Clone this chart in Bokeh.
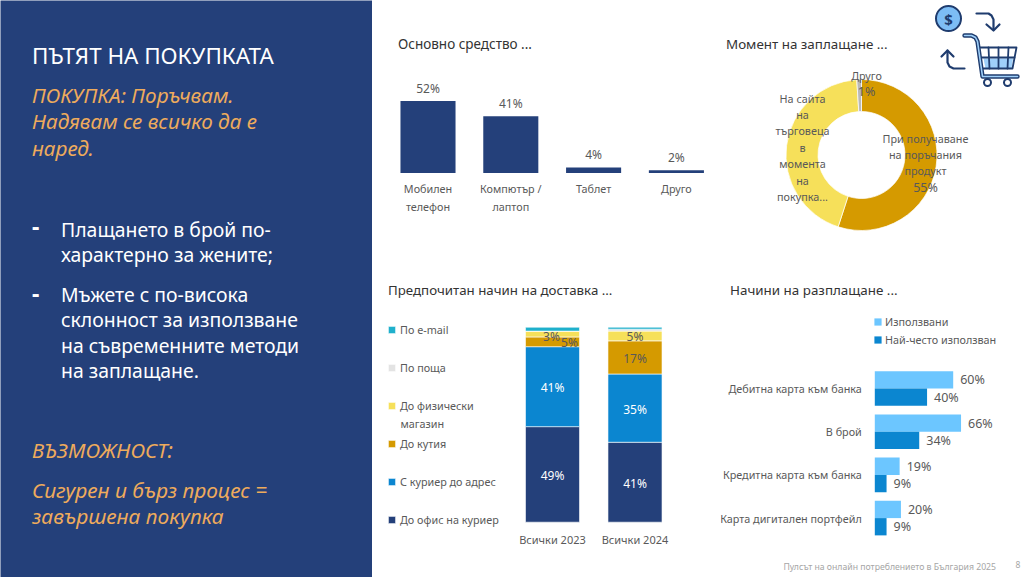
from math import pi
from bokeh.core.properties import value
from bokeh.embed import file_html
from bokeh.layouts import column, row
from bokeh.models import ColumnDataSource, FixedTicker, Legend, LegendItem, LinearAxis, Range1d
from bokeh.plotting import figure
from bokeh.resources import INLINE
from bokeh.transform import dodge

# ---------- data ----------
device_labels = ["Мобилен\nтелефон", "Компютър /\nлаптоп", "Таблет", "Друго"]
device_values = [52, 41, 4, 2]

pay_moment_labels = ["При получаване\nна поръчания\nпродукт", "На сайта\nна\nтърговеца\nв\nмомента\nна\nпокупка...", "Друго"]
pay_moment_values = [55, 44, 1]

delivery_years = ["Всички 2023", "Всички 2024"]
delivery_series = ["До офис на куриер", "С куриер до адрес", "До кутия", "До физически\nмагазин", "По поща", "По e-mail"]
office_courier = [49, 41]
courier_address = [41, 35]
parcel_box = [5, 17]
physical_store = [3, 5]
by_post = [0, 1]
by_email = [2, 1]

pay_methods = ["Дебитна карта към банка", "В брой", "Кредитна карта към банка", "Карта дигитален портфейл"]
pay_used = [60, 66, 19, 20]
pay_most = [40, 34, 9, 9]
pay_series = ["Използвани", "Най-често използван"]

# ---------- style ----------
FONT = "Noto Sans"
NAVY = "#24407a"
BLUE = "#0b86d0"
GOLD = "#d59a00"
YELLOW = "#f6e05a"
GREY = "#e3e3e3"
TEAL = "#1fb0cc"
LIGHT = "#6cc6ff"
ORANGE = "#eeab5c"
TXT = "#595959"
HEAD = "#333333"
ICON = "#1f3c6e"
ICONF = "#9fd0fa"


def scale(px0, px1, a_px, a_val, b_px, b_val):
    k = (b_val - a_val) / (b_px - a_px)
    return Range1d(start=a_val + (px0 - a_px) * k, end=a_val + (px1 - a_px) * k)


def base(x0, x1, y0, y1, xr=None, yr=None, bg="white"):
    p = figure(width=x1 - x0, height=y1 - y0, x_range=xr or Range1d(x0, x1), y_range=yr or Range1d(y1, y0),
               toolbar_location=None, output_backend="svg", x_axis_location=None, y_axis_location=None,
               min_border=0, background_fill_color=bg, border_fill_color=bg, outline_line_color=None)
    p.grid.visible = False
    p.extra_x_ranges["page"] = Range1d(x0, x1)
    p.extra_y_ranges["page"] = Range1d(y1, y0)
    return p


def text(p, x, y, t, size, color=TXT, align="left", style="normal", **kw):
    p.text(x=x, y=y, text=t, text_font=value(FONT), text_font_size=f"{size}px", text_color=color,
           text_align=align, text_baseline="middle", text_font_style=style,
           x_range_name="page", y_range_name="page", **kw)


def cat_axis(p, side, ticks, labels, standoff, size):
    ax = LinearAxis(ticker=FixedTicker(ticks=ticks), major_label_overrides=dict(zip(ticks, labels)),
                    fixed_location=0, axis_line_color=None, major_tick_line_color=None,
                    minor_tick_line_color=None, major_label_standoff=standoff,
                    major_label_text_font=FONT, major_label_text_font_size=f"{size}px",
                    major_label_text_color=TXT, major_label_orientation="horizontal")
    p.add_layout(ax, side)


# ---------- left panel ----------
left = base(0, 372, 0, 577, bg=NAVY)
text(left, [31.5], [54.5], ["ПЪТЯТ НА ПОКУПКАТА"], 22.4, "white")
text(left, [31.5, 31.5, 31.5], [94.5, 120.5, 147.5], ["ПОКУПКА: Поръчвам.", "Надявам се всичко да е", "наред."], 20.7, ORANGE, style="italic")
text(left, [31.5, 31.5], [226, 293], ["-", "-"], 23, "white", style="bold")
text(left, [60.5] * 6, [228.5, 253.5, 294, 318.5, 345, 370],
     ["Плащането в брой по-", "характерно за жените;", "Мъжете с по-висока", "склонност за използване",
      "на съвременните методи", "на заплащане."], 19.4, "white")
text(left, [31.5, 31.5, 31.5], [449, 489.5, 515.5], ["ВЪЗМОЖНОСТ:", "Сигурен и бърз процес =", "завършена покупка"], 20.9, ORANGE, style="italic")

# ---------- device bars ----------
idx = list(range(len(device_values)))
c1 = base(372, 720, 0, 270, xr=scale(372, 720, 427.5, 0, 510.3, 1), yr=scale(270, 0, 172.5, 0, 100.5, 52))
s1 = ColumnDataSource(dict(x=idx, top=device_values, lab=[f"{v}%" for v in device_values]))
c1.vbar(x="x", top="top", width=0.665, bottom=0, source=s1, fill_color=NAVY, line_color=None)
c1.text(x="x", y="top", text="lab", source=s1, text_font=value(FONT), text_font_size="12px", text_color=TXT,
        text_align="center", text_baseline="middle", y_offset=-13)
cat_axis(c1, "below", idx, device_labels, 2, 10.8)
text(c1, [397.5], [43], ["Основно средство ..."], 13.5, HEAD)

# ---------- payment moment donut ----------
c2 = base(720, 1024, 0, 270)
fracs = [v / sum(pay_moment_values) for v in pay_moment_values]
starts, ends, acc = [], [], 0.0
for f in fracs:
    starts.append(pi / 2 - 2 * pi * acc)
    acc += f
    ends.append(pi / 2 - 2 * pi * acc)
c2.annular_wedge(x=[861] * 3, y=[154.5] * 3, inner_radius=43.5, outer_radius=75.5, inner_radius_units="screen",
                 outer_radius_units="screen", start_angle=starts, end_angle=ends, direction="clock",
                 fill_color=[GOLD, YELLOW, "#b9b9b9"], line_color="white", line_width=0.7)
text(c2, [725.5], [43], ["Момент на заплащане ..."], 13.4, HEAD)
for (cx, top, lab, val) in zip([925, 802, 866], [137.5, 97.5, 74.5], pay_moment_labels, pay_moment_values):
    lines = lab.split("\n")
    ys = [top + 16.4 * i for i in range(len(lines))]
    text(c2, [cx] * len(lines), ys, lines, 10.8, TXT, align="center")
text(c2, [925, 866], [186.5, 90.5], [f"{pay_moment_values[0]}%", f"{pay_moment_values[2]}%"], 12.5, TXT, align="center")

# icon
c2.multi_line(xs=[[976, 988, 991, 993, 993], [986, 993, 999], [964, 953, 949, 947, 947], [941, 947, 953]],
              ys=[[13, 13, 15, 19, 29], [24, 30, 24], [68, 68, 66, 62, 50], [56, 50, 56]],
              line_color=ICON, line_width=2.2, line_cap="round", line_join="round")
c2.patch(x=[983, 1012.5, 1011, 985], y=[58, 58, 68, 68], fill_color=ICONF, line_color=None)
c2.scatter(x=[948], y=[18], size=25, fill_color="#7dbdf5", line_color=ICON, line_width=2)
c2.text(x=[948], y=[18], text=["$"], text_font=value(FONT), text_font_size="15px", text_font_style="bold",
        text_color=ICON, text_align="center", text_baseline="middle", x_range_name="page", y_range_name="page")
c2.multi_line(xs=[[978, 1016, 1012, 983], [981, 1014], [988, 989], [998, 998], [1008, 1007]],
              ys=[[47, 47, 68, 68], [57, 57], [47, 68], [47, 68], [47, 68]],
              line_color=ICON, line_width=1.8, line_cap="round", line_join="round")
frame_x = [964, 971, 975, 977, 982, 1017]
frame_y = [35, 35, 37, 41, 76, 76]
c2.line(frame_x, frame_y, line_color=ICON, line_width=4.4, line_cap="round", line_join="round")
c2.line(frame_x, frame_y, line_color=ICONF, line_width=1.6, line_cap="round", line_join="round")
c2.scatter(x=[987, 1007], y=[82, 82], size=7, fill_color="white", line_color=ICON, line_width=2)

# ---------- delivery stack ----------
c3 = base(372, 720, 270, 577, xr=scale(372, 720, 552, 0, 634.5, 1), yr=scale(577, 270, 521.7, 0, 326.7, 100))
s3 = ColumnDataSource(dict(x=[0, 1], office=office_courier, address=courier_address, box=parcel_box,
                           store=physical_store, post=by_post, email=by_email))
stack_cols = ["office", "address", "box", "store", "post", "email"]
stack_colors = [NAVY, BLUE, GOLD, YELLOW, GREY, TEAL]
rs = c3.vbar_stack(stack_cols, x="x", width=0.655, source=s3, color=stack_colors, line_color="white", line_width=0.6)
tops, xs3, labs, cols3, xoff, yoff = [], [], [], [], [], []
for i in range(2):
    acc = 0
    for name, arr, col in zip(stack_cols, [office_courier, courier_address, parcel_box, physical_store, by_post, by_email],
                              ["white", "white", TXT, TXT, TXT, TXT]):
        v = arr[i]
        if v >= 3:
            xs3.append(i); tops.append(acc + v / 2); labs.append(f"{v}%"); cols3.append(col)
            xoff.append(17 if (i == 0 and name == "box") else (-1 if (i == 0 and name == "store") else 0))
            yoff.append(2 if (i == 0 and name == "store") else 1)
        acc += v
c3.text(x=xs3, y=tops, text=labs, text_color=cols3, x_offset=xoff, y_offset=yoff, text_font=value(FONT),
        text_font_size="12px", text_align="center", text_baseline="middle")
cat_axis(c3, "below", [0, 1], delivery_years, 4, 11)
text(c3, [387.5], [289], ["Предпочитан начин на доставка ..."], 13.3, HEAD)
first_lines = [n.split("\n")[0] for n in delivery_series]
lg3 = Legend(items=[LegendItem(label=value(n), renderers=[r]) for n, r in zip(first_lines, rs)][::-1],
             location=(15, 50), orientation="vertical", background_fill_alpha=0, border_line_color=None, padding=0, margin=0,
             spacing=23, glyph_width=9, glyph_height=9, label_height=10, label_standoff=4,
             label_text_font=FONT, label_text_font_size="10.8px", label_text_color=TXT)
c3.add_layout(lg3)
text(c3, [400], [423], [delivery_series[3].split("\n")[1]], 10.8, TXT)

# ---------- payment methods ----------
pos = list(range(len(pay_methods)))
c4 = base(720, 1024, 270, 577, xr=scale(720, 1024, 874.3, 0, 952.7, 60), yr=scale(577, 270, 388, 0, 431.2, 1))
s4 = ColumnDataSource(dict(y=pos, used=pay_used, most=pay_most, lu=[f"{v}%" for v in pay_used], lm=[f"{v}%" for v in pay_most]))
d_u = dodge("y", -0.2, range=c4.y_range)
d_m = dodge("y", 0.2, range=c4.y_range)
r_u = c4.hbar(y=d_u, right="used", left=0, height=0.4, source=s4, fill_color=LIGHT, line_color=None)
r_m = c4.hbar(y=d_m, right="most", left=0, height=0.4, source=s4, fill_color=BLUE, line_color=None)
for yy, col, lab in [(d_u, "used", "lu"), (d_m, "most", "lm")]:
    c4.text(x=col, y=yy, text=lab, source=s4, x_offset=7, text_font=value(FONT), text_font_size="12.5px",
            text_color=TXT, text_align="left", text_baseline="middle")
cat_axis(c4, "left", pos, pay_methods, 7, 10.8)
text(c4, [729.5], [289], ["Начини на разплащане ..."], 13.4, HEAD)
lg4 = Legend(items=[LegendItem(label=value(pay_series[0]), renderers=[r_u]), LegendItem(label=value(pay_series[1]), renderers=[r_m])],
             location=(153, 230), background_fill_alpha=0, border_line_color=None, padding=0, margin=0, spacing=3,
             glyph_width=9, glyph_height=9, label_height=9, label_standoff=3,
             label_text_font=FONT, label_text_font_size="10.8px", label_text_color=TXT)
c4.add_layout(lg4)
text(c4, [783], [566], ["Пулсът на онлайн потреблението в България 2025"], 8.7, "#a6a6a6")
text(c4, [1015], [564], ["8"], 8.5, "#a6a6a6")

layout = row(left, column(row(c1, c2, spacing=0), row(c3, c4, spacing=0), spacing=0), spacing=0)
layout.styles = {"position": "absolute", "left": "0px", "top": "0px"}
open("out.html", "w").write(file_html(layout, INLINE))
